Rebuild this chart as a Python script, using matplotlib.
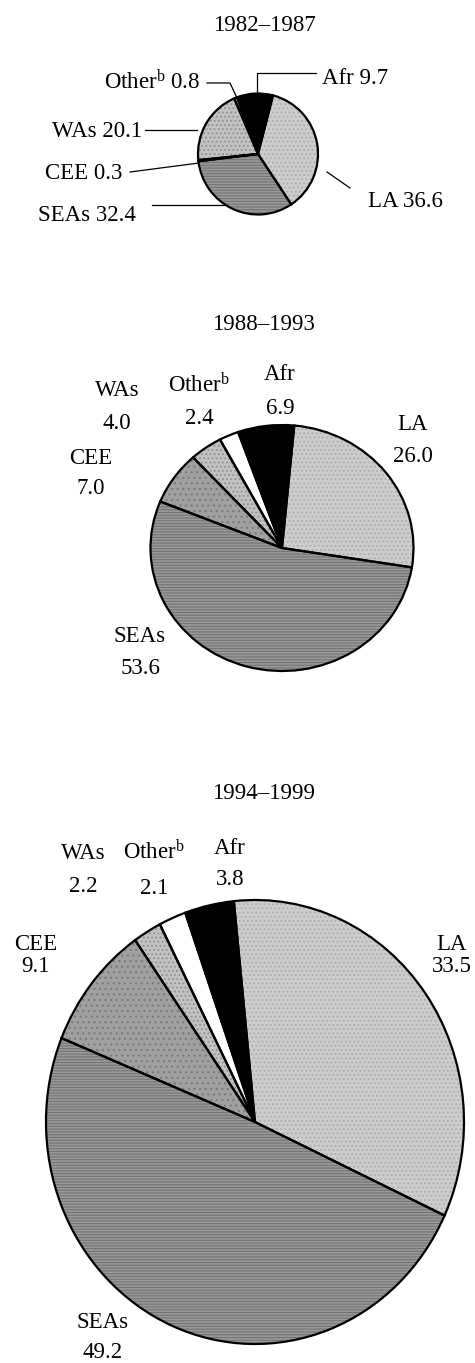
import matplotlib.pyplot as plt

plt.rcParams['font.family'] = ['Liberation Serif', 'DejaVu Serif']
plt.rcParams['mathtext.fontset'] = 'custom'
plt.rcParams['mathtext.rm'] = 'Liberation Serif'
plt.rcParams['mathtext.it'] = 'Liberation Serif:italic'
plt.rcParams['hatch.linewidth'] = 0.8

regions = ['Afr', 'LA', 'SEAs', 'CEE', 'WAs', 'Other']
periods = ['1982–1987', '1988–1993', '1994–1999']
share_8287 = [9.7, 36.6, 32.4, 0.3, 20.1, 0.8]
share_8893 = [6.9, 26.0, 53.6, 7.0, 4.0, 2.4]
share_9499 = [3.8, 33.5, 49.2, 9.1, 2.2, 2.1]

# fill, hatch pattern and hatch colour for each region
fills = ['black', '#cdcdcd', '#9a9a9a', '#a0a0a0', '#c2c2c2', 'white']
hatches = [None, '....', '------', '...', '....', None]
hatch_cols = ['black', '#acacac', '#727272', '#787878', '#8e8e8e', 'white']

W, H = 475, 1363
FS = 16.5
fig = plt.figure(figsize=(W / 100, H / 100), dpi=100)


def pie_axes(cx, cy, rx, ry):
    return fig.add_axes([(cx - rx) / W, 1 - (cy + ry) / H, 2 * rx / W, 2 * ry / H])


def draw_pie(ax, values, start):
    wedges, _ = ax.pie(values, colors=fills, startangle=start, counterclock=False,
                       wedgeprops=dict(linewidth=0, clip_on=False))
    for w, h, hc in zip(wedges, hatches, hatch_cols):
        if h:
            w.set_hatch(h)
            w.set_edgecolor(hc)
    # black outlines on top of the hatched fills
    ax.pie(values, startangle=start, counterclock=False,
           wedgeprops=dict(fill=False, edgecolor='black', linewidth=1.6, clip_on=False))
    ax.set_aspect('auto')
    ax.set_xlim(-1, 1)
    ax.set_ylim(-1, 1)


def name_of(r):
    return r'Other$^{\mathrm{b}}$' if r == 'Other' else r


draw_pie(pie_axes(258, 154, 60, 60.5), share_8287, 110.5)
draw_pie(pie_axes(282, 548, 131.5, 123), share_8893, 109.5)
draw_pie(pie_axes(255, 1122, 209, 222), share_9499, 109.5)

# label layer in pixel coordinates
lab = fig.add_axes([0, 0, 1, 1])
lab.set_xlim(0, W)
lab.set_ylim(H, 0)
lab.axis('off')

BASE = 7  # baseline offset from the text's visual centre

for title, (x, y) in zip(periods, [(264, 24), (263, 323), (264, 792)]):
    lab.text(x, y + BASE, title, ha='center', va='baseline', fontsize=FS)

# 1982-1987: single-line labels with leader lines
pos_1 = {'Afr': (322, 77, 'left'), 'LA': (368, 200, 'left'),
         'Other': (200, 82, 'right'), 'WAs': (142, 130, 'right'),
         'CEE': (122, 172, 'right'), 'SEAs': (136, 214, 'right')}
leaders_1 = {'Afr': [(257, 94), (257, 73), (316, 73)],
             'LA': [(327, 172), (350, 188)],
             'Other': [(207, 83), (230, 83), (237, 98)],
             'WAs': [(145, 130), (197, 130)],
             'CEE': [(130, 172), (199, 163)],
             'SEAs': [(152, 205), (227, 205)]}
for r, v in zip(regions, share_8287):
    x, y, ha = pos_1[r]
    lab.text(x, y + BASE, f'{name_of(r)} {v:.1f}', ha=ha, va='baseline', fontsize=FS)
    xs, ys = zip(*leaders_1[r])
    lab.plot(xs, ys, color='black', lw=0.9)

# 1988-1993 and 1994-1999: name above value
pos_2 = {'Afr': (280, 373, 407), 'LA': (413, 423, 455), 'SEAs': (140, 635, 667),
         'CEE': (91, 457, 487), 'WAs': (117, 389, 422), 'Other': (199, 385, 417)}
pos_3 = {'Afr': (230, 847, 878), 'LA': (452, 943, 965), 'SEAs': (103, 1321, 1351),
         'CEE': (36, 943, 965), 'WAs': (83, 852, 885), 'Other': (154, 852, 887)}
for values, pos in [(share_8893, pos_2), (share_9499, pos_3)]:
    for r, v in zip(regions, values):
        x, y1, y2 = pos[r]
        lab.text(x, y1 + BASE, name_of(r), ha='center', va='baseline', fontsize=FS)
        lab.text(x, y2 + BASE, f'{v:.1f}', ha='center', va='baseline', fontsize=FS)

fig.savefig('out.png', dpi=100)
